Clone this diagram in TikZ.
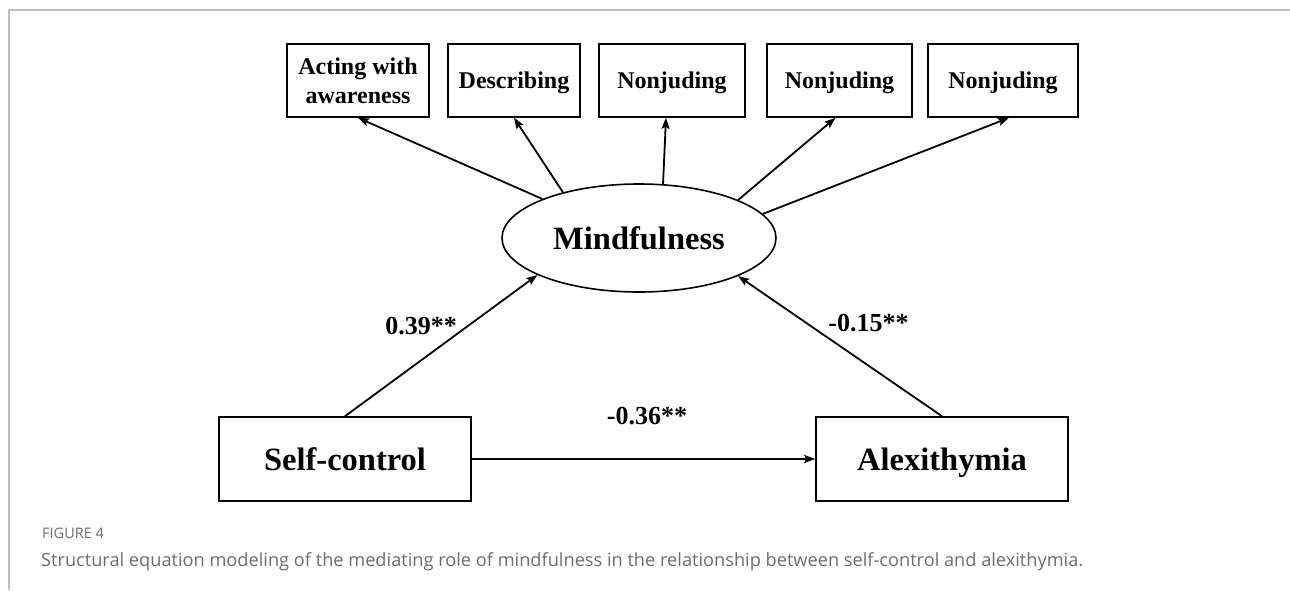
\documentclass[tikz,border=0pt]{standalone}
\usepackage{fontspec}
\setmainfont{Liberation Serif}
\newfontfamily\capfont{Open Sans}
\usetikzlibrary{arrows.meta,shapes.geometric}
\definecolor{framegray}{RGB}{190,190,190}
\definecolor{capgray}{RGB}{110,110,110}
\begin{document}
\begin{tikzpicture}[x=1pt,y=-1pt,
  topbox/.style={draw, line width=1.6pt, inner sep=0pt, minimum height=73pt, align=center,
    font=\fontsize{24}{29}\selectfont\bfseries},
  onebox/.style={topbox, text height=16pt, text depth=0pt},
  bigbox/.style={draw, line width=1.6pt, inner sep=0pt, minimum width=252pt, minimum height=84pt,
    text height=22pt, text depth=0pt, font=\fontsize{32.5}{38}\selectfont\bfseries},
  latent/.style={draw, ellipse, line width=1.6pt, inner sep=0pt, minimum width=274pt, minimum height=108pt,
    text height=22pt, text depth=0pt, font=\fontsize{32.5}{38}\selectfont\bfseries},
  coef/.style={inner sep=0pt, font=\fontsize{26}{30}\selectfont\bfseries},
  arr/.style={line width=1.8pt, -{Stealth[length=11pt,width=8pt,inset=2pt]}},
]
\useasboundingbox (0,0) rectangle (1290,590);
\fill[white] (0,0) rectangle (1290,590);
\draw[framegray, line width=1.5pt] (9,590) -- (9,10) -- (1290,10);

\node[topbox, minimum width=142pt] (act) at (358,80.5) {Acting with\\awareness};
\node[onebox, minimum width=132pt] (des) at (514,80.5) {Describing};
\node[onebox, minimum width=146pt] (n1) at (672,80.5) {Nonjuding};
\node[onebox, minimum width=145pt] (n2) at (839.5,80.5) {Nonjuding};
\node[onebox, minimum width=150pt] (n3) at (1003,80.5) {Nonjuding};

\node[latent] (M) at (639,238) {Mindfulness};

\node[bigbox] (S) at (345,459) {Self-control};
\node[bigbox] (A) at (942,459) {Alexithymia};

\draw[arr] (M.158.6) -- (act.south);
\draw[arr] (M.149) -- (des.south);
\draw[arr] (M.66) -- ([xshift=-6pt]n1.south);
\draw[arr] (M.21.7) -- ([xshift=-4pt]n2.south);
\draw[arr] (M.11.2) -- ([xshift=6pt]n3.south);
\draw[arr] (S.north) -- (M.200.5);
\draw[arr] (A.north) -- (M.339.5);
\draw[arr] (S.east) -- (A.west);

\node[coef] (c1) at (421,326) {0.39**};
\node[coef] (c2) at (868.5,323) {-0.15**};
\node[coef] (c3) at (647,416) {-0.36**};

\node[anchor=base west, inner sep=0pt, text=capgray, font=\capfont\fontsize{14.5}{17}\selectfont] (fig) at (42,538) {FIGURE 4};
\node[anchor=base west, inner sep=0pt, text=capgray, font=\capfont\fontsize{18.2}{22}\selectfont] (cap) at (41,566) {Structural equation modeling of the mediating role of mindfulness in the relationship between self-control and alexithymia.};
\end{tikzpicture}
\end{document}
